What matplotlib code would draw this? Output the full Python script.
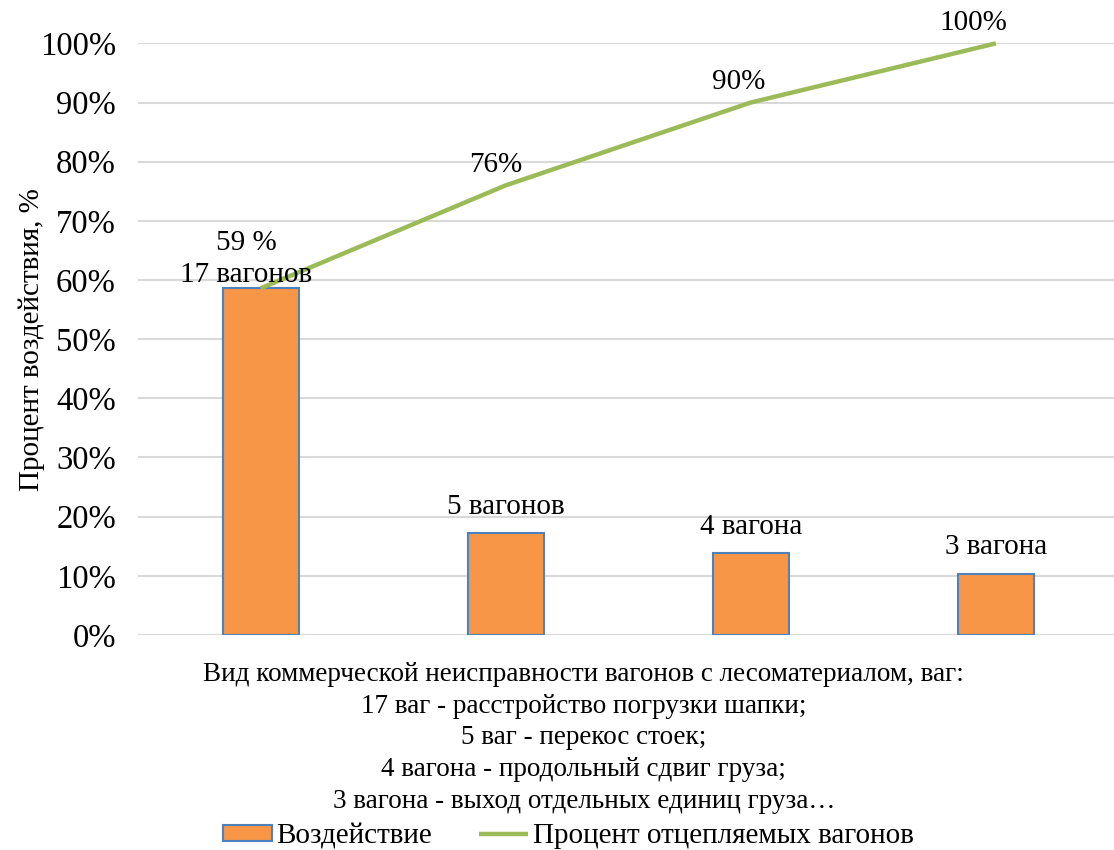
import matplotlib
matplotlib.use("Agg")
import matplotlib.pyplot as plt
from matplotlib.ticker import PercentFormatter

plt.rcParams['font.family'] = ['Liberation Serif', 'DejaVu Serif']
plt.rcParams['font.size'] = 21

categories = ['17 ваг', '5 ваг', '4 вагона', '3 вагона']
wagons = [17, 5, 4, 3]
impact = [0.586, 0.172, 0.138, 0.103]
cum_pct = [0.586, 0.76, 0.90, 1.00]
bar_labels = ['17 вагонов', '5 вагонов', '4 вагона', '3 вагона']
line_labels = ['59 %', '76%', '90%', '100%']

xlabel = ("Вид коммерческой неисправности вагонов с лесоматериалом, ваг:\n"
          "17 ваг - расстройство погрузки шапки;\n"
          "5 ваг - перекос стоек;\n"
          "4 вагона - продольный сдвиг груза;\n"
          "3 вагона - выход отдельных единиц груза…")

fig = plt.figure(figsize=(11.14, 8.5), dpi=100)
ax = fig.add_axes([0.124, 0.253, 0.88, 0.696])

x = range(len(categories))
bars = ax.bar(x, impact, width=0.31, color='#F79646', edgecolor='#4F81BD',
              linewidth=1.5, label='Воздействие', zorder=2)
line, = ax.plot(x, cum_pct, color='#9BBB59', linewidth=3.2, label='Процент отцепляемых вагонов',
                zorder=3, clip_on=False, solid_capstyle='butt')

ax.set_xlim(-0.5, 3.5)
ax.set_ylim(0, 1.0)
ax.set_yticks([i / 10 for i in range(11)])
ax.yaxis.set_major_formatter(PercentFormatter(1.0, decimals=0))
ax.set_xticks([])
ax.grid(axis='y', color='#D9D9D9', linewidth=1.5, zorder=0)
ax.tick_params(axis='y', length=0, pad=16, labelsize=23.5)
for s in ['top', 'right', 'left', 'bottom']:
    ax.spines[s].set_visible(False)

# bar labels
ax.text(-0.06, 0.608, bar_labels[0], ha='center', va='center')
ax.text(-0.06, 0.662, line_labels[0], ha='center', va='center')
for i in range(1, 4):
    ax.text(i, impact[i] + 0.045, bar_labels[i], ha='center', va='center')
offs = [0, -0.04, -0.05, -0.09]
for i in range(1, 4):
    ax.text(i + offs[i], cum_pct[i] + 0.035, line_labels[i], ha='center', va='center')

ax.set_ylabel('Процент воздействия, %')
ax.yaxis.set_label_coords(-0.095, 0.5)
fig.text(0.524, 0.132, xlabel, ha='center', va='center', linespacing=1.35, fontsize=19.5)

ax.legend([bars, line], ['Воздействие', 'Процент отцепляемых вагонов'],
          loc='center', bbox_to_anchor=(0.51, 0.016), bbox_transform=fig.transFigure,
          ncol=2, frameon=False, handlelength=1.7, handleheight=0.5, handletextpad=0.15,
          columnspacing=1.6, fontsize=21, borderpad=0.1)

fig.savefig('out.png', dpi=100)
